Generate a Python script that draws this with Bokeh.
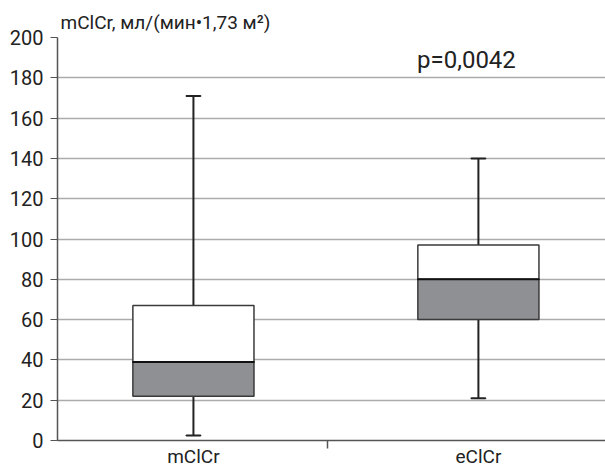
from bokeh.plotting import figure
from bokeh.models import Range1d, FixedTicker, Label, ColumnDataSource
from bokeh.embed import file_html
from bokeh.resources import INLINE

categories = ["mClCr", "eClCr"]
positions = [1, 2]
whisker_low = [2.5, 21]
q1 = [22, 60]
median = [39, 80]
q3 = [67, 97]
whisker_high = [171, 140]
y_ticks = [0, 20, 40, 60, 80, 100, 120, 140, 160, 180, 200]

FONT = "Roboto"
BW = 0.425
CW = 0.05

src = ColumnDataSource(dict(x=positions, lo=whisker_low, q1=q1, med=median, q3=q3, hi=whisker_high))

p = figure(width=605, height=470, output_backend="svg", toolbar_location=None,
           x_range=Range1d(0.523, 2.446), y_range=Range1d(0, 200),
           min_border_left=57, min_border_right=0, min_border_top=37, min_border_bottom=28)
p.outline_line_color = None
p.xgrid.grid_line_color = None
p.ygrid.grid_line_color = "#ababab"
p.ygrid.grid_line_width = 1.5

p.title.text = "mClCr, мл/(мин•1,73 м²)"
p.title.text_font = FONT
p.title.text_font_size = "19px"
p.title.text_font_style = "normal"
p.title.text_color = "#222222"
p.title.offset = 3
p.title.standoff = 7

p.yaxis.ticker = FixedTicker(ticks=y_ticks)
p.yaxis.minor_tick_line_color = None
p.yaxis.major_tick_out = 7
p.yaxis.major_tick_in = 0
p.yaxis.axis_line_color = "#555555"
p.yaxis.axis_line_width = 1.5
p.yaxis.major_tick_line_color = "#555555"
p.yaxis.major_label_text_font = FONT
p.yaxis.major_label_text_font_size = "20px"
p.yaxis.major_label_text_color = "#222222"
p.yaxis.major_label_standoff = 7

p.xaxis.ticker = FixedTicker(ticks=positions, minor_ticks=[1.47])
p.xaxis.major_label_overrides = {1: categories[0], 2: categories[1]}
p.xaxis.major_tick_line_color = None
p.xaxis.major_tick_out = 0
p.xaxis.major_tick_in = 0
p.xaxis.minor_tick_out = 8
p.xaxis.minor_tick_in = 0
p.xaxis.minor_tick_line_color = "#555555"
p.xaxis.minor_tick_line_width = 1.5
p.xaxis.axis_line_color = "#555555"
p.xaxis.axis_line_width = 1.5
p.xaxis.major_label_text_font = FONT
p.xaxis.major_label_text_font_size = "19px"
p.xaxis.major_label_text_color = "#222222"
p.xaxis.major_label_standoff = -4

# whiskers
p.segment(x0="x", y0="lo", x1="x", y1="q1", source=src, line_color="#222222", line_width=2)
p.segment(x0="x", y0="q3", x1="x", y1="hi", source=src, line_color="#222222", line_width=2)
p.rect(x="x", y="lo", width=CW, height=0.01, source=src, fill_color=None, line_color="#222222", line_width=2)
p.rect(x="x", y="hi", width=CW, height=0.01, source=src, fill_color=None, line_color="#222222", line_width=2)
# boxes
p.vbar(x="x", bottom="q1", top="med", width=BW, source=src, fill_color="#8f9094", line_color="#3a3a3a", line_width=1.5)
p.vbar(x="x", bottom="med", top="q3", width=BW, source=src, fill_color="white", line_color="#3a3a3a", line_width=1.5)
p.rect(x="x", y="med", width=BW, height=0.01, source=src, fill_color=None, line_color="#111111", line_width=2)

p.add_layout(Label(x=1.958, y=189, text="p=0,0042", text_align="center", text_baseline="alphabetic",
                   text_font=FONT, text_font_size="24px", text_color="#222222"))

open("out.html", "w").write(file_html(p, INLINE))
